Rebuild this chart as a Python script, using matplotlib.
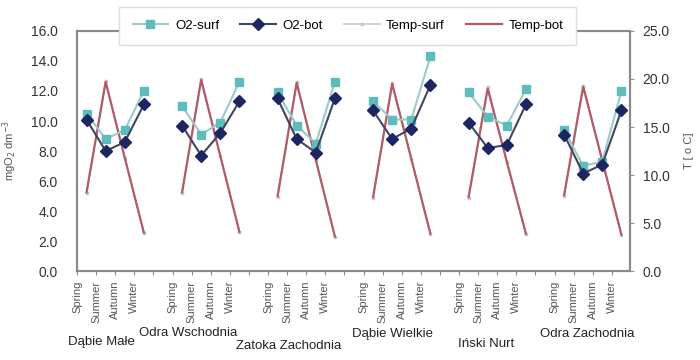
import numpy as np
import matplotlib
matplotlib.use("Agg")
from matplotlib import pyplot as plt
from matplotlib import transforms

plt.rcParams['font.family'] = ['Liberation Sans', 'DejaVu Sans']

groups = ["Dąbie Małe", "Odra Wschodnia", "Zatoka Zachodnia",
          "Dąbie Wielkie", "Iński Nurt", "Odra Zachodnia"]
seasons = ["Spring", "Summer", "Autumn", "Winter"]

o2_surf = [[10.5, 8.8, 9.4, 12.0],
           [11.0, 9.1, 9.9, 12.6],
           [11.9, 9.7, 8.5, 12.6],
           [11.3, 10.1, 10.1, 14.3],
           [11.9, 10.3, 9.7, 12.1],
           [9.4, 7.0, 7.3, 12.0]]
o2_bot = [[10.1, 8.0, 8.6, 11.1],
          [9.7, 7.7, 9.2, 11.3],
          [11.5, 8.8, 7.9, 11.5],
          [10.7, 8.8, 9.5, 12.4],
          [9.9, 8.2, 8.4, 11.1],
          [9.1, 6.5, 7.1, 10.7]]
temp_surf = [[8.1, 19.8, 11.8, 4.0],
             [8.1, 20.0, 12.0, 4.1],
             [7.7, 19.7, 11.6, 3.6],
             [7.6, 19.6, 11.7, 3.9],
             [7.6, 19.2, 11.4, 3.9],
             [7.8, 19.3, 11.5, 3.8]]
temp_bot = [[8.2, 19.7, 11.8, 4.0],
            [8.2, 19.9, 12.0, 4.1],
            [7.8, 19.6, 11.6, 3.6],
            [7.7, 19.5, 11.7, 3.9],
            [7.7, 19.0, 11.4, 3.9],
            [7.9, 19.2, 11.5, 3.8]]

# group label placement (x offset inside group, y in axes fraction)
label_dx = [0.8, 0.3, 0.6, 1.0, 0.9, 1.2]
label_y = [-0.295, -0.258, -0.31, -0.262, -0.305, -0.262]

fig = plt.figure(figsize=(7, 3.6), dpi=100)
ax = fig.add_axes([0.11, 0.247, 0.79, 0.667])
ax2 = ax.twinx()

spine_c = '#8a8a8a'
c_surf_m = '#5ebcbc'
c_surf_l = '#9ccaca'
c_bot_m = '#1c2660'
c_bot_l = '#404660'
c_tsurf = '#c8c8c8'
c_tbot = '#b35a68'

xt, xl = [], []
for g in range(len(groups)):
    x = np.arange(4) + g * 5
    xt += list(x - 0.5)
    xl += seasons
    if g < len(groups) - 1:
        xt.append(g * 5 + 3.5)
        xl.append("")
    ax2.plot(x, temp_surf[g], color=c_tsurf, lw=1.2, marker='o', ms=1.8,
             label='Temp-surf' if g == 0 else None, zorder=1)
    ax2.plot(x, temp_bot[g], color=c_tbot, lw=1.6,
             label='Temp-bot' if g == 0 else None, zorder=2)
    ax.plot(x, o2_surf[g], color=c_surf_l, lw=1.5, marker='s', ms=5.5,
            mfc=c_surf_m, mec=c_surf_m, label='O2-surf' if g == 0 else None, zorder=3)
    ax.plot(x, o2_bot[g], color=c_bot_l, lw=1.5, marker='D', ms=6,
            mfc=c_bot_m, mec=c_bot_m, label='O2-bot' if g == 0 else None, zorder=4)

ax.set_zorder(ax2.get_zorder() + 1)
ax.patch.set_visible(False)

ax.set_xlim(-0.45, 28.45)
ax.set_ylim(0, 16)
ax2.set_ylim(0, 25)
ax.set_yticks(np.arange(0, 16.1, 2))
ax.set_yticklabels([f"{v:.1f}" for v in np.arange(0, 16.1, 2)])
ax2.set_yticks(np.arange(0, 25.1, 5))
ax2.set_yticklabels([f"{v:.1f}" for v in np.arange(0, 25.1, 5)])
ax.set_xticks(xt)
ax.set_xticklabels(xl, rotation=90, fontsize=8, color='#555555')

for a in (ax, ax2):
    for s in a.spines.values():
        s.set_color(spine_c)
        s.set_linewidth(1.5)
ax.tick_params(axis='y', length=0, labelsize=10, colors='#333333', pad=14)
ax2.tick_params(axis='y', length=3, labelsize=10, colors='#333333', pad=6)
ax2.tick_params(axis='y', color=spine_c)
ax.tick_params(axis='x', length=3, color=spine_c, pad=4)

ax.set_ylabel("mgO$_2$ dm$^{-3}$", fontsize=8, color='#555555', labelpad=8)
ax2.set_ylabel("T [ o C]", fontsize=8, color='#555555', labelpad=10)

trans = transforms.blended_transform_factory(ax.transData, ax.transAxes)
for g, name in enumerate(groups):
    ax.text(g * 5 + label_dx[g], label_y[g], name, transform=trans,
            ha='center', va='center', fontsize=9.5, color='#222222')

h1, l1 = ax.get_legend_handles_labels()
h2, l2 = ax2.get_legend_handles_labels()
leg = fig.legend(h1 + h2, l1 + l2, ncol=4, loc='center',
                 bbox_to_anchor=(0.497, 0.928), fontsize=9.5, frameon=True,
                 fancybox=False, edgecolor='#dddddd', handlelength=2.7,
                 handletextpad=0.5, columnspacing=1.6, borderpad=1.0,
                 framealpha=1.0)
leg.get_frame().set_linewidth(1.0)

fig.savefig("out.png", dpi=100)
